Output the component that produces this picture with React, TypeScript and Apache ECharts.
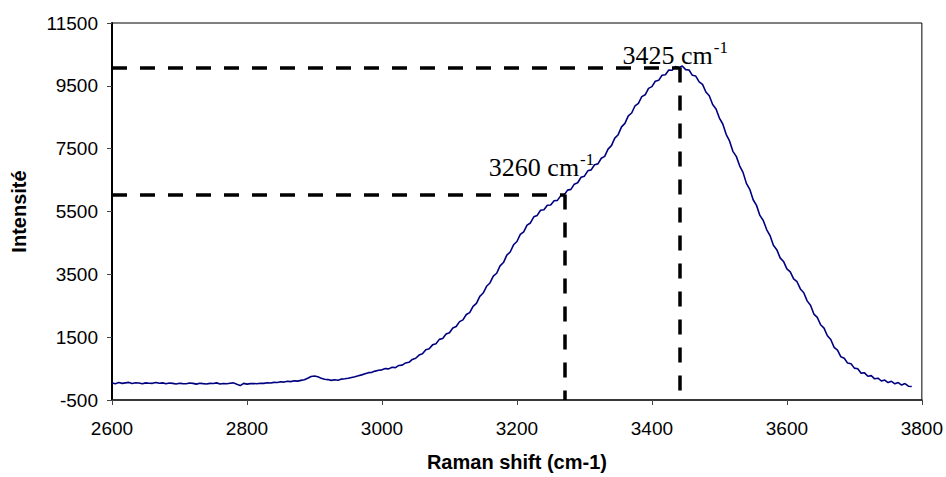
import React, { useEffect, useRef } from "react";
import * as echarts from "echarts";

// Raman spectrum: intensity sampled every 5 cm-1 starting at 2600 cm-1
const SHIFT_START = 2600;
const SHIFT_STEP = 5;
const intensity = [
  40, 20, 55, 30, 45, 60, 25, 50, 40, 15,
  45, 35, 30, 60, 35, 45, 20, 40, 30, 10,
  35, 20, 15, 40, 30, 5, 35, 20, 10, 30,
  25, 45, 10, 25, 15, 35, 45, 0, -40, 30,
  5, 20, 25, 15, 35, 30, 50, 40, 60, 55,
  80, 70, 95, 85, 110, 100, 125, 145, 190, 250,
  265, 240, 195, 160, 150, 125, 145, 130, 165, 175,
  190, 215, 240, 270, 300, 335, 370, 380, 420, 445,
  460, 500, 490, 545, 530, 600, 610, 680, 700, 790,
  830, 930, 970, 1100, 1130, 1255, 1290, 1430, 1460, 1600,
  1640, 1790, 1840, 1995, 2050, 2220, 2280, 2480, 2575, 2800,
  2905, 3120, 3225, 3440, 3535, 3770, 3875, 4110, 4210, 4440,
  4545, 4770, 4855, 5065, 5135, 5330, 5375, 5540, 5555, 5700,
  5705, 5840, 5855, 6005, 6025, 6180, 6205, 6370, 6415, 6590,
  6625, 6795, 6825, 6990, 7015, 7195, 7255, 7485, 7595, 7835,
  7945, 8195, 8305, 8545, 8635, 8865, 8945, 9155, 9215, 9420,
  9475, 9645, 9675, 9835, 9855, 10005, 9995, 10115, 10075, 10130,
  10015, 10005, 9835, 9810, 9625, 9545, 9305, 9185, 8905, 8765,
  8475, 8285, 7955, 7745, 7415, 7255, 6955, 6745, 6395, 6205,
  5875, 5695, 5375, 5215, 4925, 4735, 4425, 4285, 4025, 3910,
  3675, 3580, 3355, 3265, 3035, 2915, 2655, 2515, 2235, 2130,
  1895, 1790, 1545, 1425, 1175, 1085, 875, 830, 675, 655,
  515, 495, 355, 365, 255, 275, 175, 195, 105, 135,
  55, 95, 15, 55, -25, 25, -60, -70,
];

const xTicks = [2600, 2800, 3000, 3200, 3400, 3600, 3800];
const yTicks = [-500, 1500, 3500, 5500, 7500, 9500, 11500];

// marked peaks: label text, position of the guide lines (shift, intensity)
const peakLabels = ["3425", "3260"];
const peakShifts = [3441, 3271];
const peakValues = [10080, 6040];

// label placement relative to the guide-line corner (pixels)
const labelOffsets = [
  { dx: -57, dy: -6 },
  { dx: -76, dy: -21 },
];

const SERIF = '"Liberation Serif", "Times New Roman", serif';
const SANS = '"Liberation Sans", Arial, sans-serif';
const MAIN_FS = 26;
const SUP_FS = 17;
const TICK_FS = 19;

export default function App() {
  const ref = useRef<HTMLDivElement>(null);

  useEffect(() => {
    if (!ref.current) return;
    const chart = echarts.init(ref.current, null, { renderer: "svg" });
    const data = intensity.map((v, i) => [SHIFT_START + i * SHIFT_STEP, v]);
    const xMin = xTicks[0];
    const yMin = yTicks[0];

    const markData: any[] = [];
    peakShifts.forEach((s, i) => {
      markData.push([{ coord: [xMin, peakValues[i]] }, { coord: [s, peakValues[i]] }]);
      markData.push([{ coord: [s, peakValues[i]] }, { coord: [s, yMin] }]);
    });

    chart.setOption({
      animation: false,
      backgroundColor: "#fff",
      grid: {
        left: 112,
        right: 24,
        top: 23,
        bottom: 77,
        show: true,
        borderColor: "#000",
        borderWidth: 1,
        backgroundColor: "transparent",
      },
      xAxis: {
        type: "value",
        min: xTicks[0],
        max: xTicks[xTicks.length - 1],
        interval: 200,
        name: "Raman shift (cm-1)",
        nameLocation: "middle",
        nameGap: 52,
        nameTextStyle: { fontFamily: SANS, fontSize: 20, fontWeight: "bold", color: "#000" },
        axisLine: { show: true, onZero: false, lineStyle: { color: "#222", width: 1.5 } },
        axisTick: { show: true, length: 5, lineStyle: { color: "#444" } },
        axisLabel: {
          margin: 19,
          fontFamily: SANS,
          fontSize: TICK_FS,
          color: "#000",
          formatter: (v: number) => String(v),
        },
        splitLine: { show: false },
      },
      yAxis: {
        type: "value",
        min: yTicks[0],
        max: yTicks[yTicks.length - 1],
        name: "Intensité",
        nameLocation: "middle",
        nameGap: 83,
        nameTextStyle: { fontFamily: SANS, fontSize: 20, fontWeight: "bold", color: "#000" },
        axisLine: { show: true, onZero: false, lineStyle: { color: "#000", width: 2 } },
        axisTick: { show: true, length: 5, customValues: yTicks, lineStyle: { color: "#444" } },
        axisLabel: {
          margin: 14,
          customValues: yTicks,
          fontFamily: SANS,
          fontSize: TICK_FS,
          color: "#000",
          formatter: (v: number) => String(v),
        },
        splitLine: { show: false },
      },
      series: [
        {
          type: "line",
          data,
          showSymbol: false,
          symbol: "none",
          lineStyle: { color: "#000080", width: 1.6 },
          z: 3,
          markLine: {
            silent: true,
            symbol: "none",
            label: { show: false },
            lineStyle: { color: "#000", width: 3.5, type: [15, 13] },
            data: markData,
          },
        },
      ],
    });

    const ctx = document.createElement("canvas").getContext("2d")!;
    ctx.font = `${MAIN_FS}px ${SERIF}`;
    const graphics: any[] = [];
    peakShifts.forEach((s, i) => {
      const [px, py] = chart.convertToPixel({ gridIndex: 0 }, [s, peakValues[i]]) as number[];
      const left = px + labelOffsets[i].dx;
      const base = py + labelOffsets[i].dy;
      const mainText = `${peakLabels[i]} cm`;
      const w = ctx.measureText(mainText).width;
      graphics.push({
        type: "text",
        x: left,
        y: base - 0.225 * MAIN_FS,
        z: 10,
        style: { text: mainText, font: `${MAIN_FS}px ${SERIF}`, fill: "#000", verticalAlign: "middle", align: "left" },
      });
      graphics.push({
        type: "text",
        x: left + w + 1,
        y: base - 10 - 0.225 * SUP_FS,
        z: 10,
        style: { text: "-1", font: `${SUP_FS}px ${SERIF}`, fill: "#000", verticalAlign: "middle", align: "left" },
      });
    });
    chart.setOption({ graphic: graphics });

    return () => chart.dispose();
  }, []);

  return (
    <div
      ref={ref}
      style={{ position: "fixed", left: 0, top: 0, width: 946, height: 477, background: "#fff" }}
    />
  );
}
